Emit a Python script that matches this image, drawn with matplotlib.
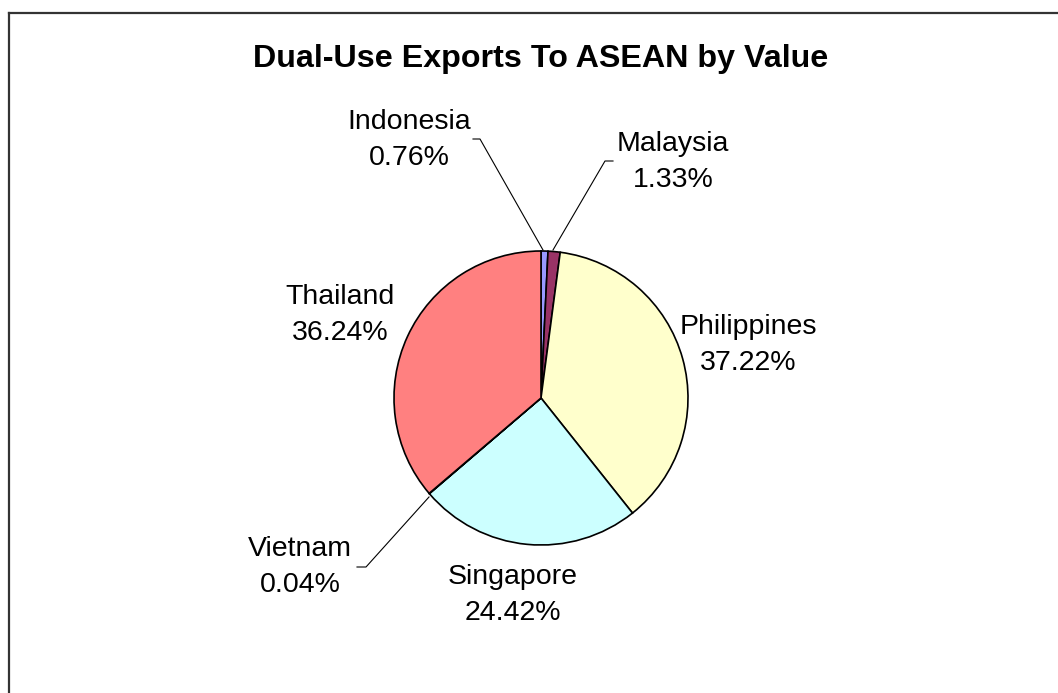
import matplotlib
matplotlib.use("Agg")
import matplotlib.pyplot as plt
from matplotlib.lines import Line2D

plt.rcParams['font.family'] = ['Liberation Sans', 'DejaVu Sans']

# export shares by country (percent of value)
countries = ['Indonesia', 'Malaysia', 'Philippines', 'Singapore', 'Vietnam', 'Thailand']
shares = [0.76, 1.33, 37.22, 24.42, 0.04, 36.24]
colors = ['#9999FF', '#993366', '#FFFFCC', '#CCFFFF', '#660066', '#FF8080']

W, H = 1058, 693
CX, CY, R = 541, 398, 147

fig = plt.figure(figsize=(W / 100, H / 100), dpi=100)
fig.patch.set_facecolor('white')

ax = fig.add_axes([(CX - R) / W, (H - CY - R) / H, 2 * R / W, 2 * R / H])
ax.pie(shares, colors=colors, startangle=90, counterclock=False, radius=1,
       wedgeprops=dict(edgecolor='black', linewidth=1.2))
ax.set_xlim(-1, 1)
ax.set_ylim(-1, 1)
ax.set_aspect('equal')
ax.axis('off')


def px(x, y):
    # pixel position -> pie data coords
    return (x - CX) / R, (CY - y) / R


label_pos = {
    'Indonesia': (409, 140),
    'Malaysia': (673, 162),
    'Philippines': (748, 345),
    'Singapore': (513, 595),
    'Vietnam': (300, 567),
    'Thailand': (340, 315),
}
for name, val in zip(countries, shares):
    x, y = px(*label_pos[name])
    ax.text(x, y, f"{name}\n{val:.2f}%", ha='center', va='center',
            multialignment='center', fontsize=20.5, linespacing=1.5,
            clip_on=False)

# leader lines for the thin slices
leaders = [
    [(473, 139), (480, 139), (543, 250)],
    [(613, 161), (605, 161), (553, 250)],
    [(357, 567), (366, 567), (429, 497)],
]
for pts in leaders:
    xs, ys = zip(*[px(*p) for p in pts])
    ax.plot(xs, ys, color='black', linewidth=0.8, clip_on=False)

fig.text(CX / W, 1 - 59 / H, 'Dual-Use Exports To ASEAN by Value',
         ha='center', va='center', fontsize=23.2, fontweight='bold')

# chart area frame (top and left edges visible)
fig.add_artist(Line2D([8.5 / W, 1.01], [1 - 12.5 / H, 1 - 12.5 / H],
                      transform=fig.transFigure, color='#333333', linewidth=1.6))
fig.add_artist(Line2D([8.5 / W, 8.5 / W], [1 - 12.5 / H, -0.01],
                      transform=fig.transFigure, color='#333333', linewidth=1.6))

fig.savefig('out.png', dpi=100)
